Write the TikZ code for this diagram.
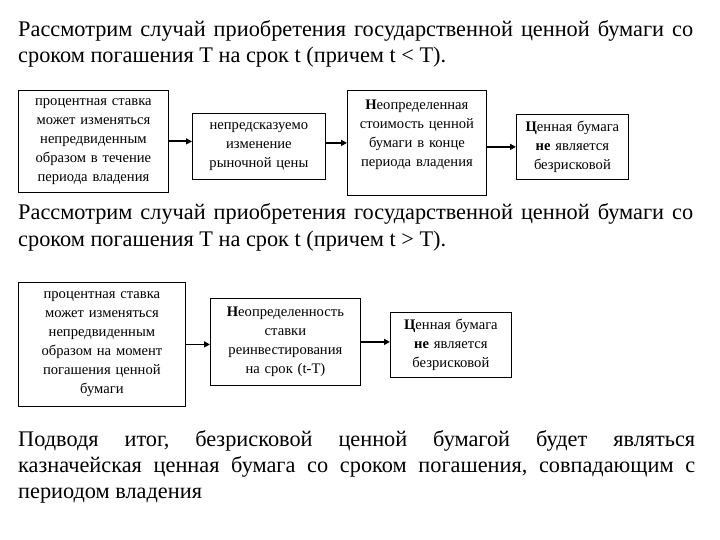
\documentclass[tikz,border=0pt]{standalone}
\usepackage{fontspec}
\setmainfont{Liberation Serif}
\usetikzlibrary{arrows.meta}
\frenchspacing
\begin{document}
\begin{tikzpicture}[x=1pt,y=-1pt,
  bigtext/.style={anchor=base west,inner sep=0pt,font=\fontsize{22.3}{26}\selectfont},
  box/.style={draw,line width=0.8pt,anchor=north west,inner sep=0pt,align=center,
    font=\fontsize{14.6}{19}\selectfont},
  arr/.style={line width=1.8pt,-{Triangle[length=6pt,width=6pt]}}]
\useasboundingbox (0,0) rectangle (720,540);
% heading 1
\node[bigtext] (h1a) at (18,37) {\makebox[675pt][s]{Рассмотрим случай приобретения государственной ценной бумаги со}};
\node[bigtext] (h1b) at (18,63) {сроком погашения Т на срок t (причем t < T).};
% row 1 boxes
\node[box,minimum width=150pt,minimum height=102pt,text width=148pt] (A) at (18,90)
  {процентная ставка\\может изменяться\\непредвиденным\\образом в течение\\периода владения};
\node[box,minimum width=133pt,minimum height=66pt,text width=131pt] (B) at (192,113)
  {непредсказуемо\\изменение\\рыночной цены};
\node[box,minimum width=139pt,minimum height=105pt,text width=137pt] (C) at (347,90)
  {\textbf{Н}еопределенная\\стоимость ценной\\бумаги в конце\\периода владения\\\mbox{}};
\node[box,minimum width=112pt,minimum height=65pt,text width=110pt] (D) at (516,114)
  {\textbf{Ц}енная бумага\\\textbf{не} является\\безрисковой};
\draw[arr] (A.east) -- (A.east -| B.west);
\draw[arr] (C.west -| B.east) -- (C.west);
\draw[arr] (D.west -| C.east) -- (D.west);
% heading 2
\node[bigtext] (h2a) at (18,220) {\makebox[675pt][s]{Рассмотрим случай приобретения государственной ценной бумаги со}};
\node[bigtext] (h2b) at (18,247) {сроком погашения Т на срок t (причем t > T).};
% row 2 boxes
\node[box,minimum width=167pt,minimum height=124pt,text width=165pt] (E) at (18,282)
  {процентная ставка\\может изменяться\\непредвиденным\\образом на момент\\погашения ценной\\бумаги};
\node[box,minimum width=150pt,minimum height=87pt,text width=148pt] (F) at (210,298)
  {\textbf{Н}еопределенность\\ставки\\реинвестирования\\на срок (t-T)};
\node[box,minimum width=121pt,minimum height=65pt,text width=119pt] (G) at (390,312)
  {\textbf{Ц}енная бумага\\\textbf{не} является\\безрисковой};
\draw[arr] (E.east) -- (E.east -| F.west);
\draw[arr] (F.east) -- (F.east -| G.west);
% conclusion
\node[bigtext] (c1) at (18,446) {\makebox[677pt][s]{Подводя итог, безрисковой ценной бумагой будет являться}};
\node[bigtext] (c2) at (18,472) {\makebox[677pt][s]{казначейская ценная бумага со сроком погашения, совпадающим с}};
\node[bigtext] (c3) at (18,498) {периодом владения};
\end{tikzpicture}
\end{document}
